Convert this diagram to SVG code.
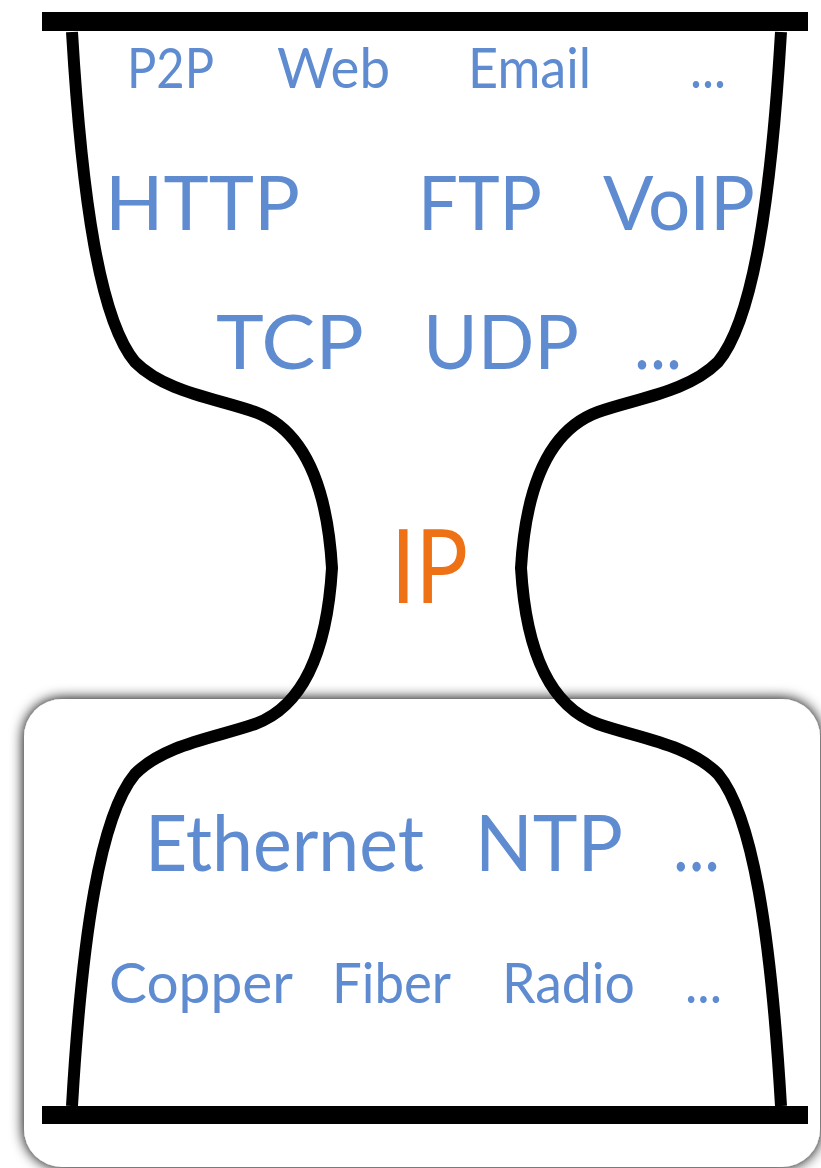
<svg xmlns="http://www.w3.org/2000/svg" width="821" height="1168" viewBox="0 0 821 1168">
  <defs>
    <filter id="soft-shadow" x="-10%" y="-10%" width="120%" height="120%">
      <feGaussianBlur in="SourceAlpha" stdDeviation="7"/>
      <feComponentTransfer><feFuncA type="linear" slope="1.1"/></feComponentTransfer>
      <feMerge><feMergeNode/><feMergeNode in="SourceGraphic"/></feMerge>
    </filter>
    <style>
      .wall { fill: none; stroke: #000; stroke-width: 12; }
      .bar { fill: #000; }
      .lbl { font-family: Lato, "Open Sans", sans-serif; fill: #5f8bd1; }
      .ip { font-family: Lato, "Open Sans", sans-serif; fill: #ef7116; }
    </style>
  </defs>

  <rect width="821" height="1168" fill="#fff"/>

  <!-- lower panel with soft shadow -->
  <g id="lower-panel">
    <rect x="24" y="699" width="796" height="468" rx="38" ry="38" fill="#fff" filter="url(#soft-shadow)"/>
  </g>

  <!-- hourglass outline -->
  <g id="hourglass">
    <path id="wall-left" class="wall" d="M72,32 C82,200 100,320 135,362 C165,392 215,398 255,412 C310,432 328,500 332,568 C328,636 310,704 255,724 C215,738 165,744 135,774 C100,816 82,936 72,1106"/>
    <path id="wall-right" class="wall" transform="translate(853,0) scale(-1,1)" d="M72,32 C82,200 100,320 135,362 C165,392 215,398 255,412 C310,432 328,500 332,568 C328,636 310,704 255,724 C215,738 165,744 135,774 C100,816 82,936 72,1106"/>
    <rect id="bar-top" class="bar" x="42" y="12" width="766" height="19"/>
    <rect id="bar-bottom" class="bar" x="42" y="1106" width="766" height="18"/>
  </g>

  <!-- applications -->
  <g id="row-apps">
    <text class="lbl" x="127" y="88" font-size="56" textLength="87" lengthAdjust="spacingAndGlyphs">P2P</text>
    <text class="lbl" x="277" y="88" font-size="56" textLength="113" lengthAdjust="spacingAndGlyphs">Web</text>
    <text class="lbl" x="468" y="88" font-size="56" textLength="123" lengthAdjust="spacingAndGlyphs">Email</text>
    <text class="lbl" x="690" y="88" font-size="56" textLength="36" lengthAdjust="spacingAndGlyphs">...</text>
  </g>

  <!-- application protocols -->
  <g id="row-app-protocols">
    <text class="lbl" x="105" y="230" font-size="75" textLength="195" lengthAdjust="spacingAndGlyphs">HTTP</text>
    <text class="lbl" x="418" y="230" font-size="75" textLength="124" lengthAdjust="spacingAndGlyphs">FTP</text>
    <text class="lbl" x="603" y="230" font-size="75" textLength="152" lengthAdjust="spacingAndGlyphs">VoIP</text>
  </g>

  <!-- transport -->
  <g id="row-transport">
    <text class="lbl" x="216" y="369" font-size="76" textLength="148" lengthAdjust="spacingAndGlyphs">TCP</text>
    <text class="lbl" x="423" y="369" font-size="76" textLength="156" lengthAdjust="spacingAndGlyphs">UDP</text>
    <text class="lbl" x="634" y="369" font-size="76" textLength="48" lengthAdjust="spacingAndGlyphs">...</text>
  </g>

  <!-- network -->
  <g id="node-ip">
    <text class="ip" x="391" y="603" font-size="102" textLength="77" lengthAdjust="spacingAndGlyphs">IP</text>
  </g>

  <!-- link -->
  <g id="row-link">
    <text class="lbl" x="145" y="871" font-size="77" textLength="279" lengthAdjust="spacingAndGlyphs">Ethernet</text>
    <text class="lbl" x="475" y="871" font-size="77" textLength="148" lengthAdjust="spacingAndGlyphs">NTP</text>
    <text class="lbl" x="673" y="871" font-size="77" textLength="47" lengthAdjust="spacingAndGlyphs">...</text>
  </g>

  <!-- physical -->
  <g id="row-physical">
    <text class="lbl" x="109" y="1003" font-size="56" textLength="184" lengthAdjust="spacingAndGlyphs">Copper</text>
    <text class="lbl" x="332" y="1003" font-size="56" textLength="119" lengthAdjust="spacingAndGlyphs">Fiber</text>
    <text class="lbl" x="502" y="1003" font-size="56" textLength="133" lengthAdjust="spacingAndGlyphs">Radio</text>
    <text class="lbl" x="685" y="1003" font-size="56" textLength="37" lengthAdjust="spacingAndGlyphs">...</text>
  </g>
</svg>
